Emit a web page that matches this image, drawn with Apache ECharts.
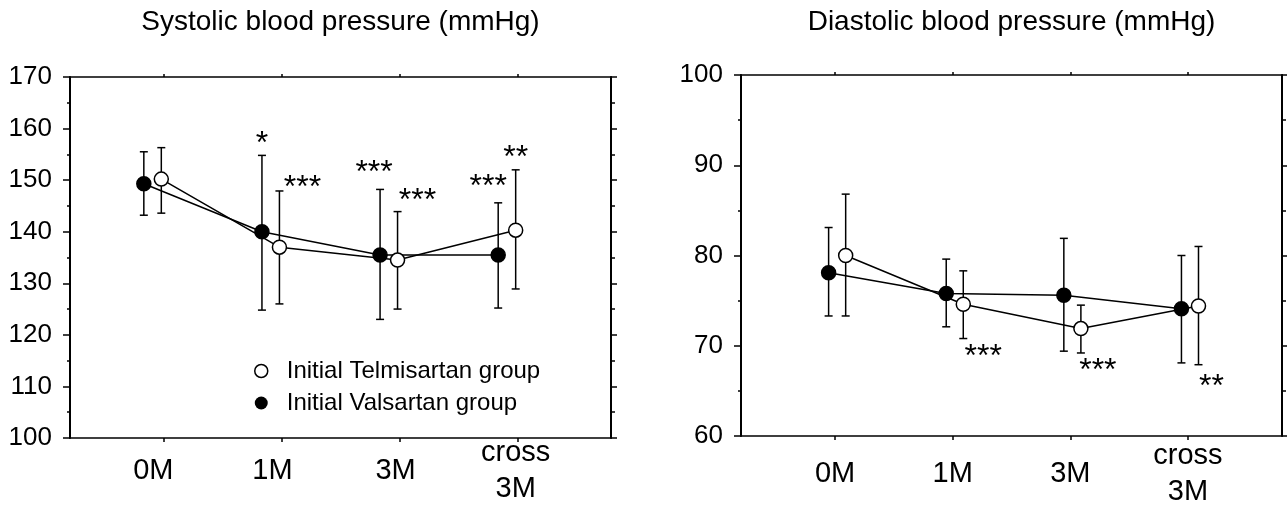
<!DOCTYPE html>
<html>
<head>
<meta charset="utf-8">
<script src="https://cdn.jsdelivr.net/npm/echarts@6/dist/echarts.min.js"></script>
<style>
html,body{margin:0;padding:0;background:#fff;}
#chart{width:1287px;height:507px;}
</style>
</head>
<body>
<div id="chart"></div>
<script>
// ---------------- data ----------------
const categories = ['0M', '1M', '3M', 'cross\n3M'];
const titles = ['Systolic blood pressure (mmHg)', 'Diastolic blood pressure (mmHg)'];
const seriesNames = ['Initial Telmisartan group', 'Initial Valsartan group'];

const sysTicks = [100, 110, 120, 130, 140, 150, 160, 170];
const diaTicks = [60, 70, 80, 90, 100];

// Systolic
const sysTelMean = [150.2, 137.0, 134.5, 140.3];
const sysTelHigh = [156.3, 147.9, 143.9, 152.0];
const sysTelLow  = [143.6, 126.0, 125.0, 128.9];
const sysValMean = [149.3, 140.0, 135.5, 135.5];
const sysValHigh = [155.5, 154.8, 148.2, 145.6];
const sysValLow  = [143.2, 124.8, 123.0, 125.2];
const sysTelSig  = ['', '***', '***', '**'];
const sysValSig  = ['', '*', '***', '***'];

// Diastolic
const diaTelMean = [80.0, 74.6, 71.9, 74.4];
const diaTelHigh = [86.8, 78.3, 74.5, 81.0];
const diaTelLow  = [73.3, 70.8, 69.2, 67.9];
const diaValMean = [78.1, 75.8, 75.6, 74.1];
const diaValHigh = [83.1, 79.6, 81.9, 80.0];
const diaValLow  = [73.3, 72.1, 69.4, 68.1];
const diaTelSig  = ['', '***', '***', '**'];
const diaValSig  = ['', '', '', ''];

// ---------------- layout / style ----------------
const FONT = "'Liberation Sans', Arial, sans-serif";
const STAR_SIZE = 32;
const GLYPH_CORR = 7; // asterisk glyph sits high in the em box

const layout = {
  sys: { left: 70, top: 77, width: 541, height: 361, xMin: -0.79, xMax: 3.79,
         offTel: -0.017, offVal: -0.165, catMargin: 33,
         labelShift: [-10, -9, -4, -2],
         telSigDx: [0, 23, 20, 0], telSigDy: [0, -10, -17.7, -19],
         valSigDx: [0, 0, -6, -10], valSigDy: [0, -17.8, -23, -22.7], sigAnchor: 'top' },
  dia: { left: 741, top: 75, width: 541, height: 361, xMin: -0.8, xMax: 3.8,
         offTel: 0.09, offVal: -0.055, catMargin: 38,
         labelShift: [0, 0, 0, 0],
         telSigDx: [0, 20, 17, 13], telSigDy: [0, 11.3, 11.7, 15],
         valSigDx: [0, 0, 0, 0], valSigDy: [0, 0, 0, 0], sigAnchor: 'bottom' }
};

const idx = [0, 1, 2, 3];

function labelRich(L) {
  const rich = {};
  idx.forEach(i => {
    const s = L.labelShift[i];
    rich['c' + i] = {
      fontFamily: FONT, fontSize: 29, color: '#000', lineHeight: 36,
      padding: s < 0 ? [0, -2 * s, 0, 0] : [0, 0, 0, 2 * s]
    };
  });
  return rich;
}

function xAxes(L, gridIndex) {
  const base = {
    type: 'value', gridIndex: gridIndex, min: L.xMin, max: L.xMax,
    splitLine: { show: false },
    axisLine: { show: true, onZero: false, lineStyle: { color: '#000', width: 1.5 } }
  };
  return [
    Object.assign({}, base, {
      position: 'bottom',
      axisTick: { show: true, inside: false, length: 4, customValues: idx, lineStyle: { color: '#000', width: 1.5 } },
      axisLabel: {
        show: true, customValues: idx, margin: L.catMargin,
        verticalAlign: 'middle', lineHeight: 36,
        fontFamily: FONT, fontSize: 29, color: '#000',
        rich: labelRich(L),
        formatter: v => {
          const i = Math.round(v);
          return categories[i].split('\n').map(t => '{c' + i + '|' + t + '}').join('\n');
        }
      }
    }),
    Object.assign({}, base, {
      position: 'top',
      axisTick: { show: true, inside: false, length: 3, customValues: idx, lineStyle: { color: '#000', width: 1.5 } },
      axisLabel: { show: false }
    })
  ];
}

function yAxes(min, max, gridIndex) {
  const base = {
    type: 'value', gridIndex: gridIndex, min: min, max: max, interval: 10,
    splitLine: { show: false },
    minorTick: { show: true, splitNumber: 2, length: 3, lineStyle: { color: '#000', width: 1.5 } },
    axisLine: { show: true, onZero: false, lineStyle: { color: '#000', width: 2 } }
  };
  return [
    Object.assign({}, base, {
      position: 'left',
      axisTick: { show: true, inside: false, length: 7, lineStyle: { color: '#000', width: 1.5 } },
      axisLabel: { show: true, margin: 18, fontFamily: FONT, fontSize: 26, color: '#000' }
    }),
    Object.assign({}, base, {
      position: 'right',
      axisTick: { show: true, inside: false, length: 6, lineStyle: { color: '#000', width: 1.5 } },
      minorTick: { show: true, splitNumber: 2, length: 4, lineStyle: { color: '#000', width: 1.5 } },
      axisLabel: { show: false }
    })
  ];
}

function lineSeries(name, mean, off, open, xi, yi) {
  return {
    type: 'line', name: name, xAxisIndex: xi, yAxisIndex: yi, z: 5,
    data: mean.map((v, i) => [i + off, v]),
    symbol: 'circle', symbolSize: 14,
    itemStyle: { color: open ? '#fff' : '#000', borderColor: '#000', borderWidth: 1.5 },
    lineStyle: { color: '#000', width: 1.5 },
    emphasis: { disabled: true },
    animation: false
  };
}

function errSeries(name, low, high, off, sig, sigDx, sigDy, anchor, xi, yi) {
  return {
    type: 'custom', name: name, xAxisIndex: xi, yAxisIndex: yi, z: 2,
    data: low.map((v, i) => [i + off, v, high[i]]),
    encode: { x: 0, y: [1, 2] },
    renderItem: function (params, api) {
      const i = params.dataIndex;
      const pLow = api.coord([api.value(0), api.value(1)]);
      const pHigh = api.coord([api.value(0), api.value(2)]);
      const cap = 4;
      const st = { stroke: '#000', lineWidth: 1.5, fill: null };
      const children = [
        { type: 'line', shape: { x1: pLow[0], y1: pLow[1], x2: pHigh[0], y2: pHigh[1] }, style: st },
        { type: 'line', shape: { x1: pLow[0] - cap, y1: pLow[1], x2: pLow[0] + cap, y2: pLow[1] }, style: st },
        { type: 'line', shape: { x1: pHigh[0] - cap, y1: pHigh[1], x2: pHigh[0] + cap, y2: pHigh[1] }, style: st }
      ];
      if (sig[i]) {
        const ay = anchor === 'top' ? pHigh[1] : pLow[1];
        children.push({
          type: 'text',
          style: {
            text: sig[i], x: pLow[0] + sigDx[i], y: ay + sigDy[i] + GLYPH_CORR,
            align: 'center', verticalAlign: 'middle',
            font: STAR_SIZE + 'px ' + FONT, fill: '#000'
          }
        });
      }
      return { type: 'group', children: children };
    },
    silent: true,
    animation: false
  };
}

const S = layout.sys, D = layout.dia;

const option = {
  backgroundColor: '#fff',
  animation: false,
  grid: [
    { left: S.left, top: S.top, width: S.width, height: S.height, outerBoundsMode: 'none', containLabel: false },
    { left: D.left, top: D.top, width: D.width, height: D.height, outerBoundsMode: 'none', containLabel: false }
  ],
  xAxis: xAxes(S, 0).concat(xAxes(D, 1)),
  yAxis: yAxes(sysTicks[0], sysTicks[sysTicks.length - 1], 0)
          .concat(yAxes(diaTicks[0], diaTicks[diaTicks.length - 1], 1)),
  legend: {
    orient: 'vertical', left: 254, top: 359, padding: 0, itemGap: 8,
    itemWidth: 13, itemHeight: 13,
    selectedMode: false,
    textStyle: { fontFamily: FONT, fontSize: 24, color: '#000', padding: [0, 0, 0, 14] },
    data: [
      { name: seriesNames[0], icon: 'circle', itemStyle: { color: '#fff', borderColor: '#000', borderWidth: 1.5 } },
      { name: seriesNames[1], icon: 'circle', itemStyle: { color: '#000', borderColor: '#000', borderWidth: 0 } }
    ]
  },
  graphic: [
    { type: 'text', x: S.left + S.width / 2, y: 22,
      style: { text: titles[0], align: 'center', verticalAlign: 'middle', font: '28px ' + FONT, fill: '#000' } },
    { type: 'text', x: D.left + D.width / 2, y: 22,
      style: { text: titles[1], align: 'center', verticalAlign: 'middle', font: '28px ' + FONT, fill: '#000' } }
  ],
  series: [
    errSeries(seriesNames[1], sysValLow, sysValHigh, S.offVal, sysValSig, S.valSigDx, S.valSigDy, S.sigAnchor, 0, 0),
    errSeries(seriesNames[0], sysTelLow, sysTelHigh, S.offTel, sysTelSig, S.telSigDx, S.telSigDy, S.sigAnchor, 0, 0),
    lineSeries(seriesNames[1], sysValMean, S.offVal, false, 0, 0),
    lineSeries(seriesNames[0], sysTelMean, S.offTel, true, 0, 0),
    errSeries(seriesNames[1], diaValLow, diaValHigh, D.offVal, diaValSig, D.valSigDx, D.valSigDy, D.sigAnchor, 2, 2),
    errSeries(seriesNames[0], diaTelLow, diaTelHigh, D.offTel, diaTelSig, D.telSigDx, D.telSigDy, D.sigAnchor, 2, 2),
    lineSeries(seriesNames[1], diaValMean, D.offVal, false, 2, 2),
    lineSeries(seriesNames[0], diaTelMean, D.offTel, true, 2, 2)
  ]
};

const chart = echarts.init(document.getElementById('chart'), null, { renderer: 'canvas' });
chart.setOption(option);
</script>
</body>
</html>
